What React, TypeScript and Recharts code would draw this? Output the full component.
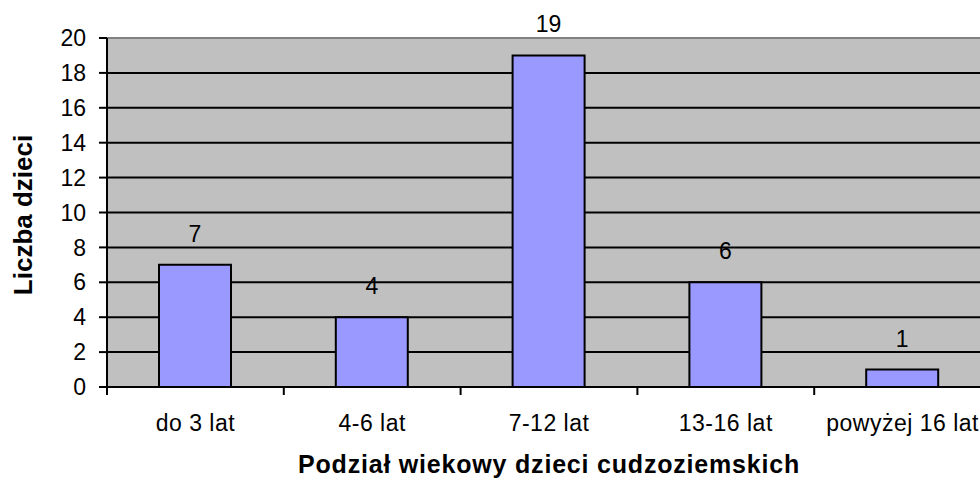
import { BarChart, Bar, XAxis, YAxis, CartesianGrid, LabelList, ReferenceLine } from 'recharts';

const categories = ['do 3 lat', '4-6 lat', '7-12 lat', '13-16 lat', 'powyżej 16 lat'];
const counts = [7, 4, 19, 6, 1];
const yTicks = [0, 2, 4, 6, 8, 10, 12, 14, 16, 18, 20];

const data = categories.map((name, i) => ({ name, value: counts[i] }));

const FONT = '"Liberation Sans", Arial, sans-serif';
const CHART_W = 1000;
const CHART_H = 479;
const MARGIN = { top: 38, right: 9, left: 0, bottom: 52 };
const Y_AXIS_W = 107;
const PLOT_W = CHART_W - MARGIN.left - MARGIN.right - Y_AXIS_W;
const BAND = PLOT_W / categories.length;
const TICK_SIZE = 8;
const X_TICK_MARGIN = 20;

function XTick(props: any) {
  const { x, y, payload, index } = props;
  const axisY = y - TICK_SIZE - X_TICK_MARGIN;
  const isLast = index === categories.length - 1;
  return (
    <g>
      <line x1={x - BAND / 2} x2={x - BAND / 2} y1={axisY} y2={axisY + TICK_SIZE} stroke="#000" strokeWidth={2} />
      {isLast && (
        <line x1={x + BAND / 2} x2={x + BAND / 2} y1={axisY} y2={axisY + TICK_SIZE} stroke="#000" strokeWidth={2} />
      )}
      <text x={x} y={y} dy="0.71em" textAnchor="middle" fill="#000" fontSize={23} letterSpacing={0.5} fontFamily={FONT}>
        {payload.value}
      </text>
    </g>
  );
}

export default function App() {
  return (
    <div style={{ position: 'absolute', left: 0, top: 0, width: 980, height: 479, overflow: 'hidden', background: '#fff' }}>
      <BarChart width={CHART_W} height={CHART_H} data={data} margin={MARGIN}>
        <CartesianGrid vertical={false} stroke="#000" strokeWidth={2} fill="#C0C0C0" fillOpacity={1} />
        <ReferenceLine y={20} stroke="#808080" strokeWidth={2} />
        <XAxis
          dataKey="name"
          height={40}
          interval={0}
          tickLine={false}
          tickSize={TICK_SIZE}
          tickMargin={X_TICK_MARGIN}
          axisLine={{ stroke: '#000', strokeWidth: 2 }}
          tick={<XTick />}
          label={{
            content: () => (
              <text
                x={549}
                y={473}
                textAnchor="middle"
                fill="#000"
                fontSize={25}
                fontWeight="bold"
                letterSpacing={0.8}
                fontFamily={FONT}
              >
                Podział wiekowy dzieci cudzoziemskich
              </text>
            ),
          }}
        />
        <YAxis
          width={Y_AXIS_W}
          domain={[0, 20]}
          ticks={yTicks}
          interval={0}
          tickSize={TICK_SIZE}
          tickMargin={13}
          axisLine={{ stroke: '#000', strokeWidth: 2 }}
          tickLine={{ stroke: '#000', strokeWidth: 2 }}
          tick={{ fill: '#000', fontSize: 23, fontFamily: FONT }}
          label={{
            content: () => (
              <text
                x={32}
                y={215}
                transform="rotate(-90 32 215)"
                textAnchor="middle"
                fill="#000"
                fontSize={26}
                fontWeight="bold"
                fontFamily={FONT}
              >
                Liczba dzieci
              </text>
            ),
          }}
        />
        <Bar dataKey="value" fill="#9999FF" stroke="#000" strokeWidth={2} barSize={72} isAnimationActive={false}>
          <LabelList dataKey="value" position="top" offset={23} fill="#000" fontSize={23} fontFamily={FONT} />
        </Bar>
      </BarChart>
    </div>
  );
}
